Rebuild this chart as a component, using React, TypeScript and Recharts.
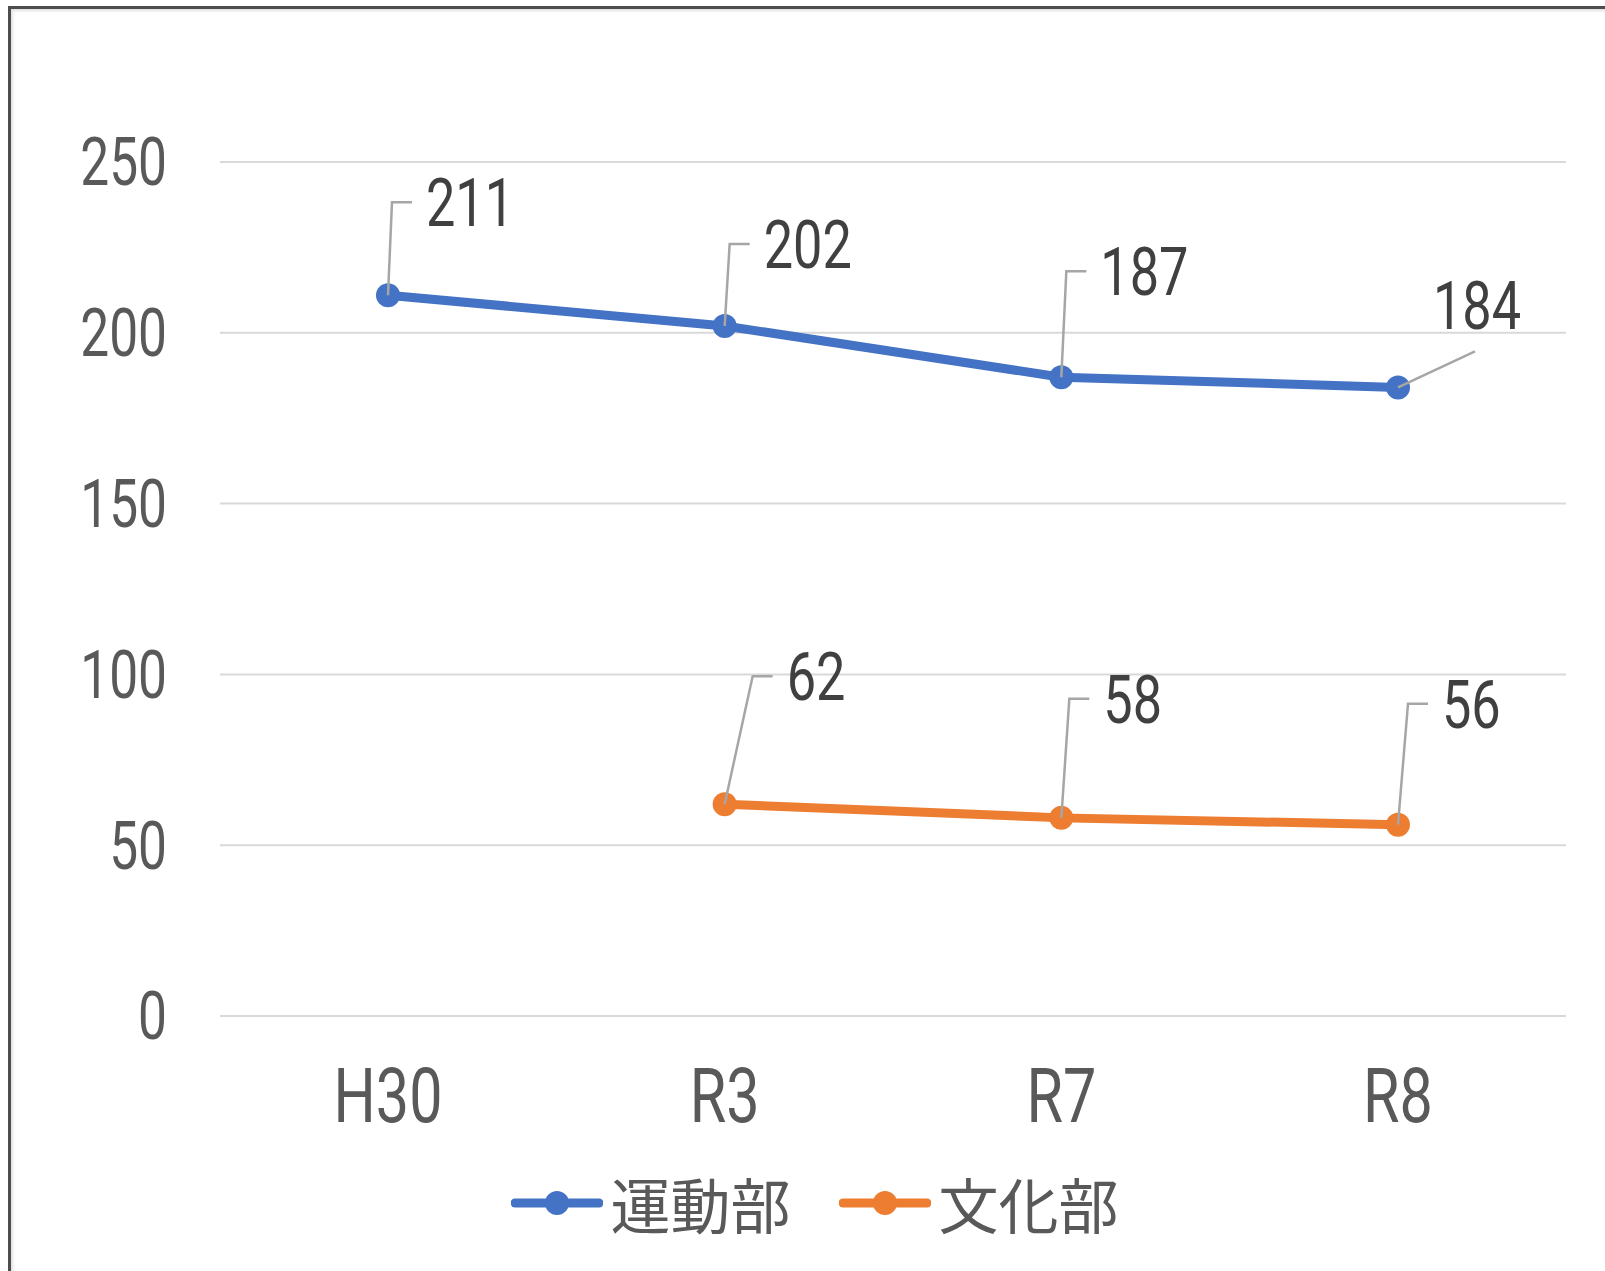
import React from "react";
import { CartesianGrid, LabelList, Legend, Line, LineChart, XAxis, YAxis } from "recharts";

const categories = ["H30", "R3", "R7", "R8"];
const sportsClubs = [211, 202, 187, 184];
const cultureClubs = [null, 62, 58, 56];
const yTicks = [0, 50, 100, 150, 200, 250];

const SERIES = [
  { key: "sports", name: "運動部", color: "#4472C4" },
  { key: "culture", name: "文化部", color: "#ED7D31" },
];

// manual label placement, like the Excel leader-line labels
const sportsLabelPos = [
  { dx: 4, dy: -93 },
  { dx: 5, dy: -82 },
  { dx: 5, dy: -106 },
  { dx: 77, dy: -36, diag: true },
];
const cultureLabelPos = [null, { dx: 28, dy: -128 }, { dx: 8, dy: -119 }, { dx: 10, dy: -121 }];

const NUM_FONT = 'Roboto, "Noto Sans", sans-serif';
const JP_FONT = '"Noto Sans CJK JP", "Noto Sans", sans-serif';
const SQUEEZE = 0.78;

const rows = categories.map((c, i) => ({
  name: c,
  sports: sportsClubs[i],
  culture: cultureClubs[i],
}));

// narrow text: the source font is a condensed face
function NarrowText({ x, y, anchor, dy, size, fill, children }: any) {
  return (
    <text
      transform={`translate(${x},${y}) scale(${SQUEEZE},1)`}
      textAnchor={anchor}
      dy={dy}
      fontSize={size}
      fontFamily={NUM_FONT}
      fill={fill}
    >
      {children}
    </text>
  );
}

function YTick(props: any) {
  const { x, y, payload } = props;
  return (
    <NarrowText x={x} y={y} anchor="end" dy="0.355em" size={66} fill="#595959">
      {payload.value}
    </NarrowText>
  );
}

function XTick(props: any) {
  const { x, y, payload } = props;
  return (
    <NarrowText x={x} y={y} anchor="middle" dy="0.71em" size={76} fill="#595959">
      {payload.value}
    </NarrowText>
  );
}

function leaderLabel(pos: any[]) {
  return (props: any) => {
    const { x, y, value, index } = props;
    const p = pos[index];
    if (value == null || !p) return null;
    const tx = x + p.dx;
    const ty = y + p.dy;
    if (p.diag) {
      return (
        <g>
          <path d={`M${x},${y} L${tx},${ty}`} stroke="#A6A6A6" strokeWidth={2.5} fill="none" />
          <NarrowText x={tx + 2} y={ty - 46} anchor="middle" dy="0.355em" size={67} fill="#404040">
            {value}
          </NarrowText>
        </g>
      );
    }
    return (
      <g>
        <path d={`M${x},${y} L${tx},${ty} L${tx + 20},${ty}`} stroke="#A6A6A6" strokeWidth={2.5} fill="none" />
        <NarrowText x={tx + 34} y={ty} anchor="start" dy="0.355em" size={67} fill="#404040">
          {value}
        </NarrowText>
      </g>
    );
  };
}

function LegendBox() {
  return (
    <div style={{ display: "flex", justifyContent: "center", alignItems: "center", height: 70, paddingLeft: 24 }}>
      {SERIES.map((s, i) => (
        <div key={s.key} style={{ display: "flex", alignItems: "center", marginLeft: i ? 48 : 0 }}>
          <svg width={92} height={30}>
            <line x1={4} y1={15} x2={88} y2={15} stroke={s.color} strokeWidth={9} strokeLinecap="round" />
            <circle cx={46} cy={15} r={12} fill={s.color} />
          </svg>
          <span style={{ fontFamily: JP_FONT, fontSize: 60, color: "#595959", marginLeft: 8, lineHeight: "70px" }}>
            {s.name}
          </span>
        </div>
      ))}
    </div>
  );
}

export default function App() {
  return (
    <div style={{ position: "absolute", left: 0, top: 0, width: 1605, height: 1271, overflow: "hidden", background: "#fff" }}>
      <div
        style={{
          position: "absolute",
          left: 8,
          top: 6,
          width: 1640,
          height: 1320,
          border: "3px solid #4d4d4d",
          boxShadow: "inset 2px 2px 3px rgba(0,0,0,0.12)",
        }}
      />
      <div style={{ position: "absolute", left: 0, top: 0 }}>
        <LineChart width={1605} height={1271} data={rows} margin={{ top: 162, right: 39, left: 0, bottom: 33 }}>
          <CartesianGrid vertical={false} stroke="#D9D9D9" strokeWidth={2} />
          <XAxis
            dataKey="name"
            axisLine={false}
            tickLine={false}
            tickSize={0}
            tickMargin={52}
            height={152}
            padding={{ left: 168, right: 168 }}
            tick={<XTick />}
          />
          <YAxis
            domain={[0, 250]}
            ticks={yTicks}
            axisLine={false}
            tickLine={false}
            tickSize={0}
            tickMargin={53}
            width={220}
            tick={<YTick />}
          />
          <Legend verticalAlign="bottom" content={<LegendBox />} wrapperStyle={{ left: 0, width: 1605 }} />
          <Line
            type="linear"
            dataKey="sports"
            name="運動部"
            stroke="#4472C4"
            strokeWidth={9}
            dot={{ r: 12, fill: "#4472C4", stroke: "#4472C4", strokeWidth: 0 }}
            isAnimationActive={false}
          >
            <LabelList dataKey="sports" content={leaderLabel(sportsLabelPos)} />
          </Line>
          <Line
            type="linear"
            dataKey="culture"
            name="文化部"
            stroke="#ED7D31"
            strokeWidth={9}
            dot={{ r: 12, fill: "#ED7D31", stroke: "#ED7D31", strokeWidth: 0 }}
            isAnimationActive={false}
          >
            <LabelList dataKey="culture" content={leaderLabel(cultureLabelPos)} />
          </Line>
        </LineChart>
      </div>
    </div>
  );
}
